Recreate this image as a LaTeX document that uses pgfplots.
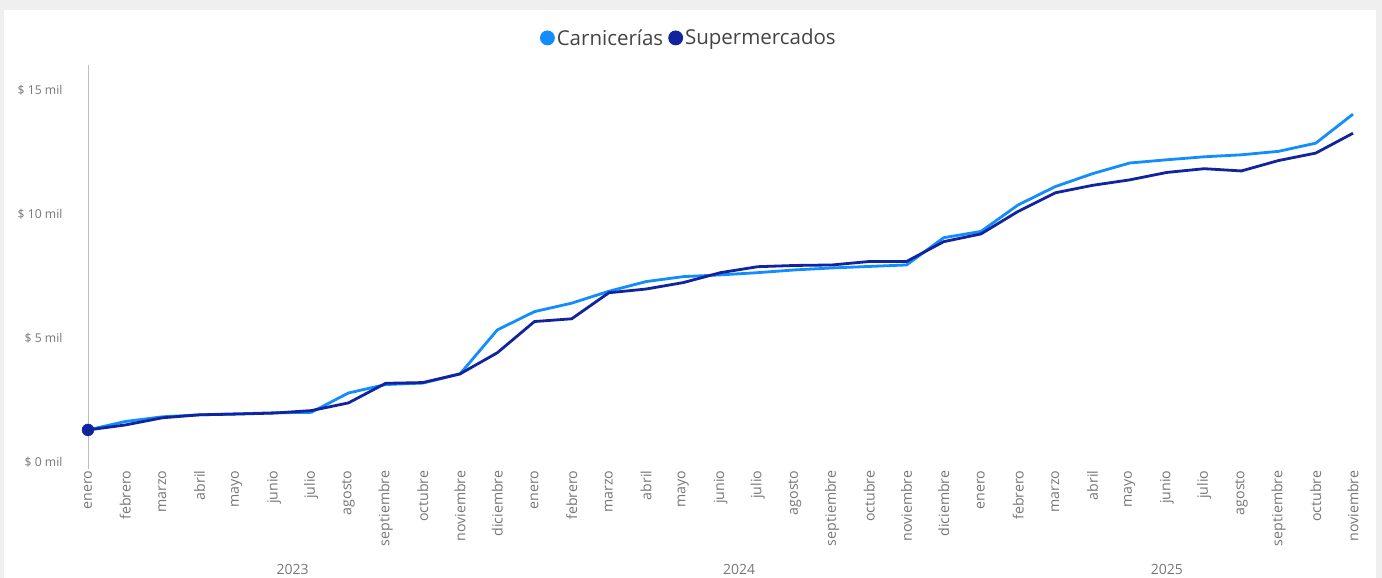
\documentclass[border=0pt]{standalone}
\usepackage{fontspec}
\setmainfont{Open Sans}
\usepackage{pgfplots}
\pgfplotsset{compat=1.18}
\definecolor{cLight}{HTML}{118DFF}
\definecolor{cDark}{HTML}{12239E}
\definecolor{txt}{HTML}{777777}
\definecolor{legtxt}{HTML}{444444}
\definecolor{axl}{HTML}{BDBDBD}
\definecolor{bg}{HTML}{EFEFEF}
\begin{document}
\begin{tikzpicture}
\useasboundingbox (0pt,0pt) rectangle (1382pt,578pt);
\fill[bg] (0pt,0pt) rectangle (1382pt,578pt);
\fill[white] (4pt,0pt) rectangle (1376pt,568pt);
\begin{axis}[
  at={(88pt,108.6pt)}, anchor=south west,
  scale only axis, width=1265pt, height=404.4pt,
  xmin=0, xmax=34, ymin=-0.3, ymax=16,
  clip=false,
  axis lines=left, axis line style={-},
  x axis line style={draw=none},
  y axis line style={draw=axl, line width=1pt},
  major tick length=0pt,
  xtick={0,...,34},
  xticklabels={enero,febrero,marzo,abril,mayo,junio,julio,agosto,septiembre,octubre,noviembre,diciembre,enero,febrero,marzo,abril,mayo,junio,julio,agosto,septiembre,octubre,noviembre,diciembre,enero,febrero,marzo,abril,mayo,junio,julio,agosto,septiembre,octubre,noviembre},
  xticklabel style={rotate=90, anchor=east, font=\fontsize{14.2}{16}\selectfont, text=txt, inner sep=1pt},
  ytick={0,5,10,15},
  yticklabels={\$ 0 mil,\$ 5 mil,\$ 10 mil,\$ 15 mil},
  yticklabel style={font=\fontsize{12.2}{14}\selectfont, text=txt, xshift=-22pt},
  legend style={at={(axis description cs:0.475,1.067)}, anchor=center, draw=none, fill=none,
    font=\fontsize{20.5}{24}\selectfont, text=legtxt,
    /tikz/every even column/.append style={column sep=3pt}},
  legend columns=2,
  legend image code/.code={\fill (6pt,0pt) circle (6pt);},
]
\addplot[color=cLight, line width=2.8pt] coordinates {
(0,1.29) (1,1.63) (2,1.82) (3,1.90) (4,1.94) (5,1.98) (6,2.00) (7,2.78) (8,3.12) (9,3.18)
(10,3.55) (11,5.32) (12,6.06) (13,6.40) (14,6.88) (15,7.27) (16,7.47) (17,7.54) (18,7.63) (19,7.74)
(20,7.82) (21,7.88) (22,7.94) (23,9.04) (24,9.29) (25,10.36) (26,11.10) (27,11.62) (28,12.05) (29,12.18)
(30,12.30) (31,12.38) (32,12.52) (33,12.85) (34,14.02)};
\addlegendentry{Carnicerías}
\addplot[color=cDark, line width=2.8pt] coordinates {
(0,1.29) (1,1.49) (2,1.78) (3,1.90) (4,1.93) (5,1.97) (6,2.07) (7,2.38) (8,3.17) (9,3.20)
(10,3.55) (11,4.40) (12,5.66) (13,5.77) (14,6.82) (15,6.97) (16,7.23) (17,7.63) (18,7.87) (19,7.92)
(20,7.94) (21,8.08) (22,8.08) (23,8.88) (24,9.19) (25,10.10) (26,10.85) (27,11.15) (28,11.37) (29,11.67)
(30,11.82) (31,11.73) (32,12.15) (33,12.45) (34,13.25)};
\addlegendentry{Supermercados}
\addplot[forget plot, only marks, mark=*, mark size=6pt, color=cDark] coordinates {(0,1.29)};
\node[font=\fontsize{14}{16}\selectfont, text=txt, anchor=center] at (axis cs:5.5,-0.3) [yshift=-100pt] {2023};
\node[font=\fontsize{14}{16}\selectfont, text=txt, anchor=center] at (axis cs:17.5,-0.3) [yshift=-100pt] {2024};
\node[font=\fontsize{14}{16}\selectfont, text=txt, anchor=center] at (axis cs:29,-0.3) [yshift=-100pt] {2025};
\end{axis}
\end{tikzpicture}
\end{document}
